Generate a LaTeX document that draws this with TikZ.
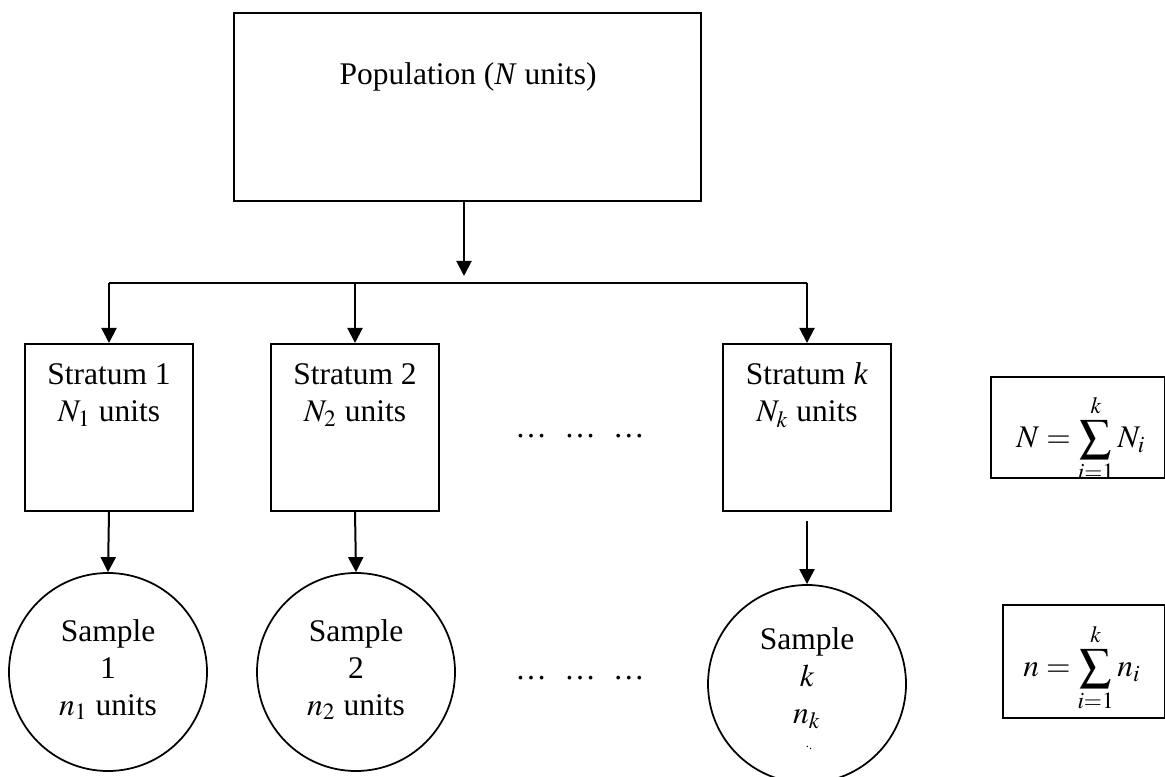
\documentclass[tikz,border=0pt]{standalone}
\usepackage{mathptmx}
\usepackage{fontspec}
\setmainfont{Liberation Serif}
\usetikzlibrary{arrows.meta}

\begin{document}
\begin{tikzpicture}[x=0.4pt,y=-0.4pt,font=\fontsize{12.6}{14.8}\selectfont]
            \tikzstyle{block}=[rectangle, draw=black, line width=0.8pt, inner sep=0pt]
            \tikzstyle{stratbox}=[block, minimum width=67.2pt, minimum height=66.8pt]
            \tikzstyle{sample}=[circle, draw=black, line width=0.7pt, inner sep=0pt, minimum size=79.2pt]
            \tikzstyle{txt}=[anchor=base, inner sep=0pt, align=center]
            \tikzstyle{connect}=[line width=0.8pt, -{Triangle[length=6pt,width=6pt]}]
            \useasboundingbox (0,0) rectangle (1165,777);
            % boxes and circles
            \node[block, minimum width=186.8pt, minimum height=75.2pt] (P) at (467.5,107){};
            \node[stratbox] (S1) at (109,427.5){};
            \node[stratbox] (S2) at (355,427.5){};
            \node[stratbox] (SK) at (807,427.5){};
            \node[sample] (C1) at (108,672){};
            \node[sample] (C2) at (356,672){};
            \node[sample] (CK) at (807,684){};
            \node[block, minimum width=69.6pt, minimum height=40.4pt] (FN) at (1078,427.5){};
            \node[block, minimum width=65pt, minimum height=45.2pt] (Fn) at (1084,661.5){};
            % texts (base = last line)
            \node[txt] (Pt) at (468,85){Population (\textit{N} units)};
            \node[txt] (S1t) at (109,422){Stratum 1\\$N_1$ units};
            \node[txt] (S2t) at (355,422){Stratum 2\\$N_2$ units};
            \node[txt] (SKt) at (807,422){Stratum \textit{k}\\$N_k$ units};
            \node[txt] (C1t) at (108,715){Sample\\1\\$n_1$ units};
            \node[txt] (C2t) at (356,715){Sample\\2\\$n_2$ units};
            \node[txt] (CKt) at (807,723){Sample\\$k$\\$n_k$};
            \node[txt, font=\tiny] (CKd) at (809,747){.\raisebox{-1pt}{.}};
            \node[txt] (D1) at (580,438){…\hspace{0.55em}…\hspace{0.55em}…};
            \node[txt] (D2) at (580,679){…\hspace{0.55em}…\hspace{0.55em}…};
            \begin{scope}
                \clip (FN.south west) rectangle (FN.north east);
                \node[inner sep=0pt] (FNt) at (1081,439){$\displaystyle N=\sum_{i=1}^{k}N_i$};
            \end{scope}
            \node[inner sep=0pt] (Fnt) at (1082,668){$\displaystyle n=\sum_{i=1}^{k}n_i$};
            % connectors
            \coordinate (J) at (464,276);
            \coordinate (B) at (464,283);
            \draw[connect] (P.south -| J) -- (J);
            \draw[line width=0.8pt] (B -| S1.north) -- (B -| SK.north);
            \draw[connect] (B -| S1.north) -- (S1.north);
            \draw[connect] (B -| S2.north) -- (S2.north);
            \draw[connect] (B -| SK.north) -- (SK.north);
            \draw[connect] (S1.south) -- (C1.north);
            \draw[connect] (S2.south) -- (C2.north);
            \draw[connect] ([yshift=-3.6pt]SK.south) -- (CK.north);
        \end{tikzpicture}
\end{document}
